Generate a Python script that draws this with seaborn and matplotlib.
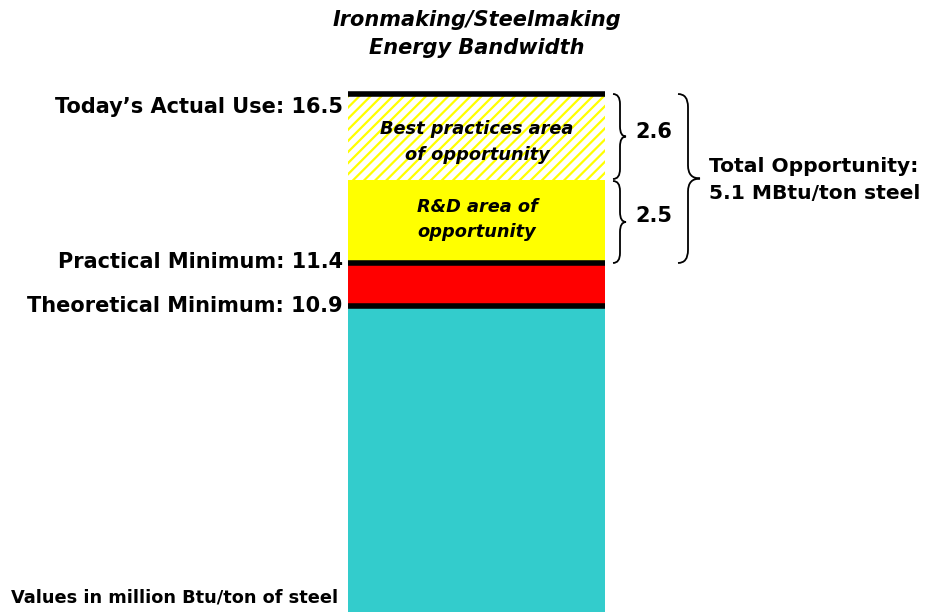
import numpy as np
import pandas as pd
import matplotlib
matplotlib.use("Agg")
import matplotlib.pyplot as plt
from matplotlib.path import Path
from matplotlib.patches import PathPatch
import seaborn as sns

# Energy levels (million Btu/ton of steel)
level_names = ["Theoretical Minimum", "Practical Minimum", "R&D limit", "Today's Actual Use"]
level_values = [10.9, 11.4, 13.9, 16.5]
band_colors = ["#33CCCC", "#FF0000", "#FFFF00", "#FFFF00"]
gap_labels = ["2.6", "2.5"]
total_gap = "5.1"

# Piecewise axis layout so the thin bands stay readable
scale_values = [0.0, 10.9, 11.4, 13.9, 16.5]
scale_heights = [0.0, 306.0, 349.0, 432.0, 518.0]

sns.set_theme(style="white")
plt.rcParams["font.family"] = ["DejaVu Sans"]
plt.rcParams["hatch.linewidth"] = 1.6

W, H = 928, 612
fig = plt.figure(figsize=(W / 100, H / 100), dpi=100)
ax = fig.add_axes([348 / W, 0, 257 / W, 518 / H])

fwd = lambda v: np.interp(v, scale_values, scale_heights)
inv = lambda p: np.interp(p, scale_heights, scale_values)
ax.set_yscale("function", functions=(fwd, inv))

# Overlaid cumulative bars, drawn from the tallest down
df = pd.DataFrame({"bar": ["steel"] * 4, "value": level_values, "color": band_colors})
for i in range(3, -1, -1):
    sns.barplot(data=df.iloc[[i]], x="bar", y="value", color=band_colors[i],
                saturation=1, width=1.0, ax=ax, linewidth=0)
hatched = ax.patches[0]
hatched.set_facecolor("white")
hatched.set_edgecolor("#FFFF00")
hatched.set_hatch("///")
hatched.set_linewidth(0)

ax.set_xlim(-0.5, 0.5)
ax.set_ylim(0, 16.5)
ax.axis("off")

# Boundary lines
for v in [level_values[3], level_values[1], level_values[0]]:
    ax.hlines(v, -0.5, 0.5, color="black", linewidth=4, clip_on=False, zorder=5)


def ypix(v):
    """Height in pixels (from the bottom of the figure) of a data value."""
    return ax.transData.transform((0, v))[1]


def fig_text(xp, y_from_top, s, **kw):
    fig.text(xp / W, 1 - y_from_top / H, s, **kw)


def from_top(v):
    return H - ypix(v)


bold = dict(fontweight="bold", color="black")

# Level labels on the left
label_texts = [f"Today\u2019s Actual Use: {level_values[3]}",
               f"Practical Minimum: {level_values[1]}",
               f"Theoretical Minimum: {level_values[0]}"]
label_offsets = [19, 5.5, 5.5]
for s, v, off in zip(label_texts, [level_values[3], level_values[1], level_values[0]], label_offsets):
    fig_text(343, from_top(v) + off, s, ha="right", va="baseline", fontsize=15, **bold)

fig_text(338, 602, "Values in million Btu/ton of steel", ha="right",
         va="baseline", fontsize=12.8, **bold)

fig_text(477, 34, "Ironmaking/Steelmaking\nEnergy Bandwidth", ha="center",
         va="center", fontsize=15, fontstyle="italic", linespacing=1.5, **bold)

# Band captions
fig_text(477, (from_top(level_values[2]) + from_top(level_values[3])) / 2 + 5,
         "Best practices area\nof opportunity", ha="center", va="center",
         fontsize=12.8, fontstyle="italic", linespacing=1.55, **bold)
fig_text(477, (from_top(level_values[1]) + from_top(level_values[2])) / 2 - 2.5,
         "R&D area of\nopportunity", ha="center", va="center",
         fontsize=12.8, fontstyle="italic", linespacing=1.5, **bold)


def brace(x0, x1, x2, ytop, ybot, r=10):
    ym = (ytop + ybot) / 2
    verts = [(x0, ytop), (x1, ytop), (x1, ytop - r), (x1, ytop - r),
             (x1, ym + r), (x1, ym), (x2, ym),
             (x1, ym), (x1, ym - r), (x1, ym - r),
             (x1, ybot + r), (x1, ybot), (x0, ybot)]
    codes = [Path.MOVETO, Path.CURVE3, Path.CURVE3, Path.LINETO,
             Path.LINETO, Path.CURVE3, Path.CURVE3,
             Path.CURVE3, Path.CURVE3, Path.LINETO,
             Path.LINETO, Path.CURVE3, Path.CURVE3]
    verts = [(x / W, y / H) for x, y in verts]
    fig.add_artist(PathPatch(Path(verts, codes), transform=fig.transFigure,
                             fill=False, edgecolor="black", linewidth=1.3))


brace(613, 620, 626, ypix(level_values[3]), ypix(level_values[2]) + 1)
brace(613, 620, 626, ypix(level_values[2]) - 1, ypix(level_values[1]))
brace(678, 688, 700, ypix(level_values[3]), ypix(level_values[1]), r=13)

fig_text(635, 138.5, gap_labels[0], ha="left", va="baseline", fontsize=15, **bold)
fig_text(635, 222, gap_labels[1], ha="left", va="baseline", fontsize=15, **bold)
fig_text(709, 180, f"Total Opportunity:\n{total_gap} MBtu/ton steel",
         ha="left", va="center", fontsize=14.6, linespacing=1.5, **bold)

fig.savefig("out.png", dpi=100)
